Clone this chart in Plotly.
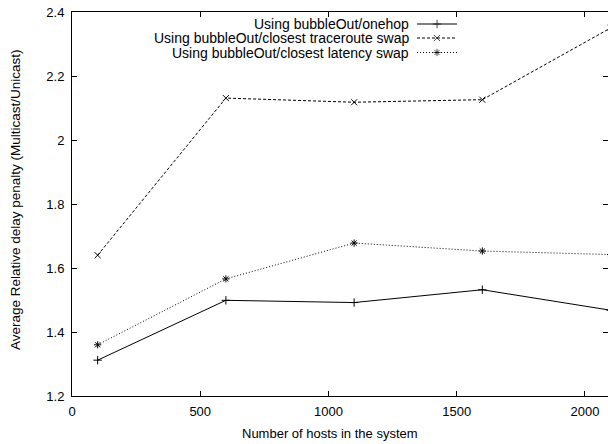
import plotly.graph_objects as go

hosts = [100, 600, 1100, 1600, 2100]
onehop = [1.312, 1.499, 1.492, 1.532, 1.468]
traceroute = [1.640, 2.131, 2.118, 2.126, 2.350]
latency = [1.360, 1.566, 1.678, 1.653, 1.642]

names = ["Using bubbleOut/onehop",
         "Using bubbleOut/closest traceroute swap",
         "Using bubbleOut/closest latency swap"]
x_ticks = [0, 500, 1000, 1500, 2000]
y_ticks = [1.2, 1.4, 1.6, 1.8, 2.0, 2.2, 2.4]
y_tick_text = ["1.2", "1.4", "1.6", "1.8", "2", "2.2", "2.4"]

FONT = "Liberation Sans, Arial, Helvetica, sans-serif"
series = [
    (onehop, "solid", "cross-thin"),
    (traceroute, "3px,2px", "x-thin"),
    (latency, "1px,2px", "asterisk-open"),
]

fig = go.Figure()
for (vals, dash, sym), name in zip(series, names):
    fig.add_trace(go.Scatter(
        x=hosts, y=vals, mode="lines+markers", name=name,
        line=dict(color="black", width=1, dash=dash),
        marker=dict(symbol=sym, size=6, color="black", line=dict(color="black", width=1)),
        showlegend=False, cliponaxis=True))

# gnuplot-style key: text right-aligned, sample to the right (drawn on a pixel overlay axis)
key_y = [24, 38, 52.5]
for (vals, dash, sym), name, ky in zip(series, names, key_y):
    fig.add_trace(go.Scatter(
        x=[417, 437, 457], y=[ky, ky, ky], mode="lines+markers",
        xaxis="x2", yaxis="y2", showlegend=False, hoverinfo="skip",
        line=dict(color="black", width=1, dash=dash),
        marker=dict(symbol=sym, size=[0, 6, 0], color="black", line=dict(color="black", width=1))))
    fig.add_annotation(x=411, y=ky, xref="x2", yref="y2", text=name, showarrow=False,
                       xanchor="right", yanchor="middle",
                       font=dict(family=FONT, size=14, color="black"))

# axis titles (paper coordinates)
fig.add_annotation(x=-0.1063, y=0.5104, xref="paper", yref="paper",
                   text="Average Relative delay penalty (Multicast/Unicast)",
                   showarrow=False, textangle=-90, xanchor="center", yanchor="middle",
                   font=dict(family=FONT, size=13.5, color="black"))
fig.add_annotation(x=0.4813, y=-0.0964, xref="paper", yref="paper",
                   text="Number of hosts in the system",
                   showarrow=False, xanchor="center", yanchor="middle",
                   font=dict(family=FONT, size=13, color="black"))

axis_common = dict(showgrid=False, zeroline=False, showline=True, linecolor="black", linewidth=1,
                   mirror="ticks", ticks="inside", ticklen=5, tickcolor="black", automargin=False,
                   ticklabeloverflow="allow",
                   tickfont=dict(family=FONT, size=13, color="black"))

fig.update_layout(
    width=608, height=444,
    margin=dict(l=72, r=0, t=12, b=48),
    plot_bgcolor="white", paper_bgcolor="white",
    xaxis=dict(range=[0, 2090], tickvals=x_ticks, ticklabelstandoff=3, **axis_common),
    yaxis=dict(range=[1.2, 2.4], tickvals=y_ticks, ticktext=y_tick_text, ticklabelstandoff=4, **axis_common),
    xaxis2=dict(range=[72, 608], overlaying="x", visible=False, fixedrange=True),
    yaxis2=dict(range=[396, 12], overlaying="y", visible=False, fixedrange=True),
    showlegend=False,
    hovermode=False,
)

# remove the default 8px page margin so the figure fills the window exactly
fig.write_html("out.html", config={"displayModeBar": False, "staticPlot": True},
               post_script="document.body.style.margin='0';")
